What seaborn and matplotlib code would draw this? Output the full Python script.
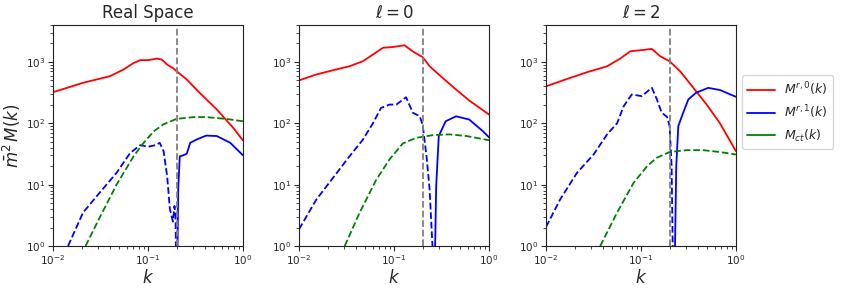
import numpy as np
import pandas as pd
import matplotlib
matplotlib.use("Agg")
import matplotlib.pyplot as plt
from matplotlib.lines import Line2D
import seaborn as sns

titles = ["Real Space", r"$\ell=0$", r"$\ell=2$"]
k_split = 0.2

# ---- Real Space ----
rs_red_k = [0.01, 0.0207, 0.0397, 0.055, 0.0705, 0.083, 0.101, 0.124, 0.14, 0.159, 0.186, 0.2, 0.256, 0.35, 0.53, 0.79, 1.0]
rs_red_v = [321, 457, 585, 750, 960, 1070, 1070, 1135, 1090, 906, 780, 705, 517, 313, 168, 84, 52.5]
rs_bneg_k = [0.0144, 0.0207, 0.031, 0.0467, 0.065, 0.083, 0.1, 0.12, 0.133, 0.146, 0.159, 0.17, 0.183, 0.19, 0.195, 0.2]
rs_bneg_v = [1.0, 3.5, 7.4, 15.6, 33, 44, 41.5, 44, 48, 35, 13.8, 4, 2.5, 4.5, 3.0, 0.1]
rs_bpos_k = [0.201, 0.208, 0.216, 0.234, 0.256, 0.278, 0.33, 0.41, 0.53, 0.735, 1.0]
rs_bpos_v = [0.1, 8.4, 29, 30, 32, 48, 55, 63, 62, 48, 30]
rs_grn_k = [0.022, 0.031, 0.0467, 0.0705, 0.09, 0.115, 0.145, 0.2, 0.3, 0.41, 0.66, 1.0]
rs_grn_v = [1.0, 2.9, 10, 29, 48, 74, 96, 118, 126, 126, 118, 108]

# ---- ell = 0 ----
l0_red_k = [0.01, 0.0152, 0.0228, 0.034, 0.047, 0.06, 0.0765, 0.097, 0.129, 0.158, 0.2, 0.237, 0.33, 0.45, 0.62, 1.0]
l0_red_v = [500, 624, 733, 851, 1026, 1320, 1700, 1750, 1870, 1480, 1200, 850, 537, 355, 235, 139]
l0_bneg_k = [0.01, 0.0152, 0.0228, 0.034, 0.047, 0.06, 0.073, 0.09, 0.106, 0.134, 0.158, 0.186, 0.2, 0.22, 0.237, 0.254, 0.26]
l0_bneg_v = [1.87, 5.7, 12.9, 29, 54, 100, 178, 202, 202, 266, 148, 131, 96, 29, 8.4, 1.0, 0.1]
l0_bpos_k = [0.264, 0.278, 0.296, 0.35, 0.45, 0.62, 0.865, 1.0]
l0_bpos_v = [0.1, 9.5, 62, 108, 130, 115, 74, 59]
l0_grn_k = [0.0303, 0.0435, 0.065, 0.09, 0.124, 0.172, 0.256, 0.38, 0.58, 1.0]
l0_grn_v = [1.0, 3.5, 12, 26, 47, 58, 64, 66, 62, 53]

# ---- ell = 2 ----
l2_red_k = [0.01, 0.0166, 0.027, 0.044, 0.0605, 0.077, 0.098, 0.13, 0.159, 0.2, 0.258, 0.356, 0.49, 0.678, 1.0]
l2_red_v = [400, 527, 680, 850, 1135, 1490, 1550, 1630, 1240, 1025, 706, 378, 203, 100, 35]
l2_bneg_k = [0.01, 0.0141, 0.0212, 0.0317, 0.044, 0.056, 0.0657, 0.08, 0.102, 0.13, 0.147, 0.165, 0.188, 0.2, 0.21, 0.22]
l2_bneg_v = [2.04, 5.75, 15.6, 31, 66, 100, 190, 295, 277, 380, 245, 149, 127, 90, 20, 0.1]
l2_bpos_k = [0.223, 0.235, 0.247, 0.278, 0.315, 0.38, 0.51, 0.68, 1.0]
l2_bpos_v = [0.1, 20, 90, 149, 245, 315, 378, 348, 270]
l2_grn_k = [0.0372, 0.056, 0.0835, 0.116, 0.147, 0.2, 0.3, 0.45, 0.68, 1.0]
l2_grn_v = [1.0, 3.5, 10.7, 20, 27.5, 34, 36.5, 36.5, 34, 31]

panels = [
    (rs_red_k, rs_red_v, rs_bneg_k, rs_bneg_v, rs_bpos_k, rs_bpos_v, rs_grn_k, rs_grn_v),
    (l0_red_k, l0_red_v, l0_bneg_k, l0_bneg_v, l0_bpos_k, l0_bpos_v, l0_grn_k, l0_grn_v),
    (l2_red_k, l2_red_v, l2_bneg_k, l2_bneg_v, l2_bpos_k, l2_bpos_v, l2_grn_k, l2_grn_v),
]

sns.set_style("ticks")
plt.rcParams["font.family"] = ["DejaVu Sans"]
plt.rcParams["mathtext.fontset"] = "dejavusans"

fig = plt.figure(figsize=(8.43, 2.91), dpi=100)
W, H = 843, 291
lefts = [53, 299, 546]
axes = []
for i, (rk, rv, bnk, bnv, bpk, bpv, gk, gv) in enumerate(panels):
    ax = fig.add_axes([lefts[i] / W, (H - 246) / H, 190 / W, 221 / H])
    axes.append(ax)
    segs = [
        (rk, rv, "red", "-"),
        (bnk, bnv, "blue", "--"),
        (bpk, bpv, "blue", "-"),
        (gk, gv, "green", "--"),
    ]
    for kk, vv, c, ls in segs:
        df = pd.DataFrame({"k": kk, "M": vv})
        sns.lineplot(data=df, x="k", y="M", ax=ax, color=c, linestyle=ls,
                     sort=False, estimator=None, linewidth=1.3)
    ax.axvline(k_split, color="gray", linestyle="--", linewidth=1.3)
    ax.set_xscale("log")
    ax.set_yscale("log")
    ax.set_xlim(1e-2, 1)
    ax.set_ylim(1, 4e3)
    ax.set_title(titles[i], fontsize=12, pad=5)
    ax.set_xlabel("$k$", fontsize=12, labelpad=1)
    ax.set_ylabel("")
    ax.tick_params(which="major", labelsize=7.5, length=3.5, width=0.8, pad=2)
    ax.tick_params(which="minor", length=2, width=0.6)
    for s in ax.spines.values():
        s.set_color("#222222")
        s.set_linewidth(0.8)

axes[0].set_ylabel(r"$\bar{m}^2\,M(k)$", fontsize=12, labelpad=2)

handles = [
    Line2D([], [], color="red", lw=1.3),
    Line2D([], [], color="blue", lw=1.3),
    Line2D([], [], color="green", lw=1.3),
]
labels = [r"$M^{r,0}(k)$", r"$M^{r,1}(k)$", r"$M_{ct}(k)$"]
fig.legend(handles, labels, loc="upper left", bbox_to_anchor=(742 / W, 1 - 75 / H),
           fontsize=9, frameon=True, handlelength=2.2, borderaxespad=0.0)

fig.savefig("out.png", dpi=100)
